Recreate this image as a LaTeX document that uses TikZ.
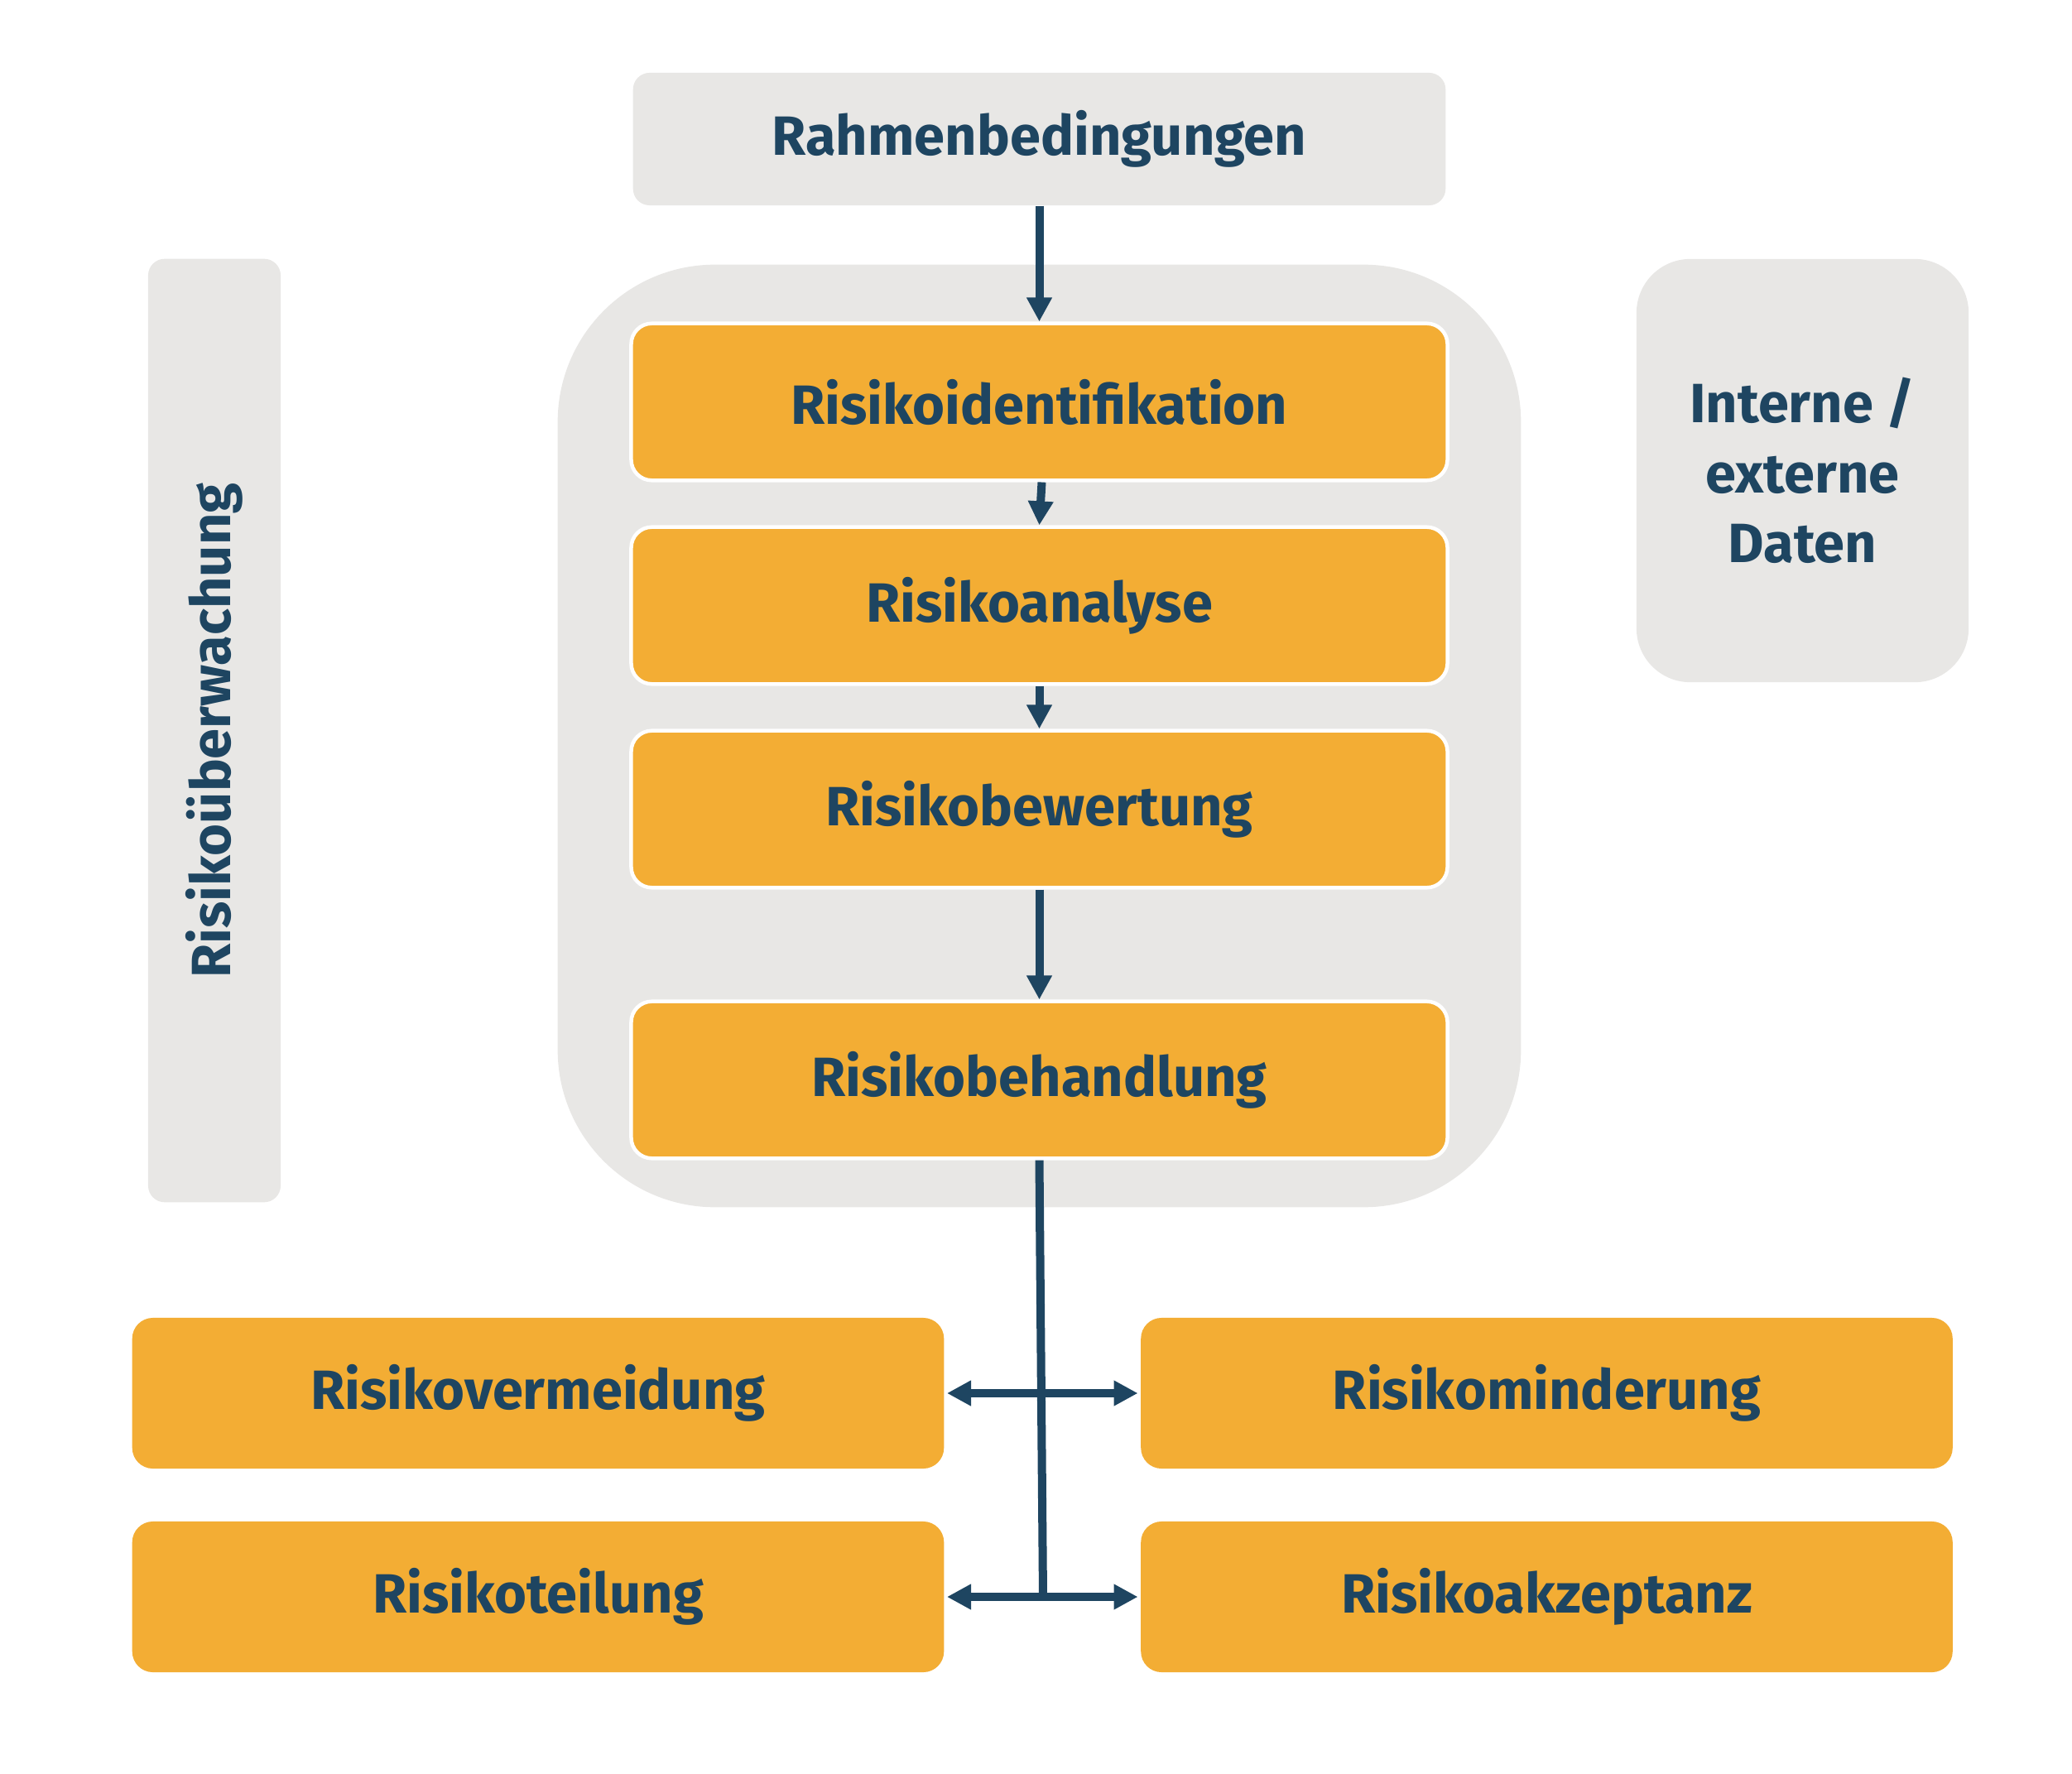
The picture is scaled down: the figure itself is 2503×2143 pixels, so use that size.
\documentclass[tikz,border=0pt]{standalone}
\usepackage{fontspec}
\setmainfont{Fira Sans}[BoldFont={Fira Sans Bold}]
\usetikzlibrary{arrows.meta}
\definecolor{txt}{HTML}{1E4561}
\definecolor{org}{HTML}{F3AD34}
\definecolor{gry}{HTML}{E8E7E5}
\tikzset{
  lbl/.style={font=\bfseries\fontsize{19}{24}\selectfont, text=txt, align=center, inner sep=0pt},
  graybox/.style={lbl, fill=gry, rounded corners=0.2cm},
  orgbox/.style={lbl, fill=org, draw=white, line width=0.045cm, rounded corners=0.25cm, minimum width=9.855cm, minimum height=1.895cm},
  botbox/.style={lbl, fill=org, rounded corners=0.25cm, minimum width=9.8cm, minimum height=1.82cm},
  tip/.tip={Triangle[length=0.29cm,width=0.29cm]},
  conn/.style={draw=txt, line width=0.1cm, -tip},
  dconn/.style={draw=txt, line width=0.1cm, tip-tip}
}
\begin{document}
\begin{tikzpicture}[x=0.01cm,y=-0.01cm]
\useasboundingbox (0,0) rectangle (2503,2143);
\node[graybox, minimum width=9.81cm, minimum height=1.6cm] (rahmen) at (1255.5,168) {Rahmenbedingungen};
\node[graybox, minimum width=1.6cm, minimum height=11.39cm] (ueber) at (259,882.5) {};
\node[lbl, rotate=90] (uebertxt) at (259,882.5) {Risikoüberwachung};
\node[fill=gry, rounded corners=1.9cm, minimum width=11.63cm, minimum height=11.38cm, inner sep=0pt] (cont) at (1255.5,889) {};
\node[graybox, rounded corners=0.65cm, minimum width=4.01cm, minimum height=5.11cm] (daten) at (2177.5,568.5) {Interne /\\externe\\Daten};
\node[orgbox] (ident) at (1255.5,485.5) {Risikoidentifikation};
\node[orgbox] (anal) at (1255.5,731.5) {Risikoanalyse};
\node[orgbox] (bew) at (1255.5,977.5) {Risikobewertung};
\node[orgbox] (beh) at (1255.5,1304.5) {Risikobehandlung};
\node[botbox] (verm) at (650,1683) {Risikovermeidung};
\node[botbox] (mind) at (1868.5,1683) {Risikominderung};
\node[botbox] (teil) at (650,1929) {Risikoteilung};
\node[botbox] (akz) at (1868.5,1929) {Risikoakzeptanz};
\draw[conn] (rahmen.south) -- (ident.north);
\draw[conn] ([xshift=0.03cm]ident.south) -- (anal.north);
\draw[conn] (anal.south) -- (bew.north);
\draw[conn] (bew.south) -- (beh.north);
\coordinate (foot) at (1260,1929);
\draw[draw=txt, line width=0.1cm] (beh.south) -- (foot);
\draw[dconn, shorten <=0.03cm, shorten >=0.03cm] (verm.east) -- (mind.west);
\draw[dconn, shorten <=0.03cm, shorten >=0.03cm] (teil.east) -- (akz.west);
\end{tikzpicture}
\end{document}
